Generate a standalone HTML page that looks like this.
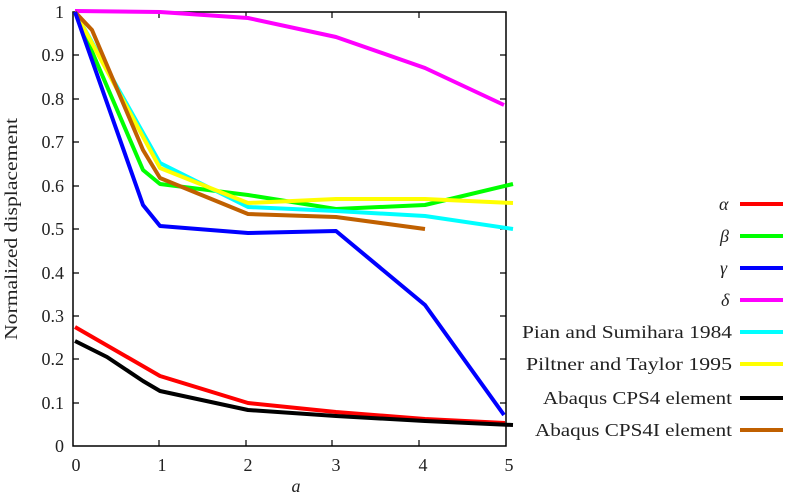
<!DOCTYPE html><html><head><style>body{margin:0;background:#fff}svg{display:block}text{font-family:"Liberation Serif",serif;font-size:18px;fill:#222}</style></head><body>
<svg width="790" height="497" viewBox="0 0 790 497">
<g stroke="#000" stroke-width="1.5" fill="none">
<rect x="73" y="12" width="433" height="434"/>
</g>
<g stroke="#000" stroke-width="1.2">
<path d="M159,446v-6M246,446v-6M332,446v-6M419,446v-6M159,12v6M246,12v6M332,12v6M419,12v6"/>
<path d="M73,403h6M73,359h6M73,316h6M73,273h6M73,229h6M73,186h6M73,142h6M73,99h6M73,55h6M506,403h-6M506,359h-6M506,316h-6M506,273h-6M506,229h-6M506,186h-6M506,142h-6M506,99h-6M506,55h-6"/>
</g>
<g text-anchor="end">
<text x="64" y="452">0</text><text x="64" y="409">0.1</text><text x="64" y="365">0.2</text><text x="64" y="322">0.3</text><text x="64" y="279">0.4</text><text x="64" y="235">0.5</text><text x="64" y="192">0.6</text><text x="64" y="148">0.7</text><text x="64" y="105">0.8</text><text x="64" y="61">0.9</text><text x="64" y="18">1</text>
</g>
<g text-anchor="middle">
<text x="76" y="471">0</text><text x="162" y="471">1</text><text x="248" y="471">2</text><text x="336" y="471">3</text><text x="423" y="471">4</text><text x="509" y="471">5</text>
<text x="296" y="492" font-style="italic">a</text>
<text transform="translate(17,229) rotate(-90)" textLength="222" lengthAdjust="spacingAndGlyphs">Normalized displacement</text>
</g>
<g fill="none" stroke-width="4" stroke-linejoin="round">
<polyline stroke="#ff00ff" points="75,11 160,12 248,18 336,37 425,68 504,105"/>
<polyline stroke="#00ff00" points="75,12 143,170 160,184 248,195 336,209 425,205 513,184"/>
<polyline stroke="#00ffff" points="75,12 160,163 248,207 336,211 425,216 513,229"/>
<polyline stroke="#ffff00" points="75,12 160,168 248,203 336,199 425,199 513,203"/>
<polyline stroke="#c06000" points="75,12 92,30 143,150 160,178 248,214 336,217 425,229"/>
<polyline stroke="#0000ff" points="75,12 143,205 160,226 248,233 336,231 425,305 504,415"/>
<polyline stroke="#ff0000" points="75,327 160,376 248,403 336,412 425,419 505,423"/>
<polyline stroke="#000" points="75,341 107,357 143,381 160,391 248,410 336,416 425,421 513,425"/>
</g>
<g>
<text x="719" y="210" font-style="italic">α</text>
<text x="720" y="242" font-style="italic">β</text>
<text x="720" y="274" font-style="italic">γ</text>
<text x="721" y="306" font-style="italic">δ</text>
<text x="522" y="338" textLength="210" lengthAdjust="spacingAndGlyphs">Pian and Sumihara 1984</text>
<text x="526" y="370" textLength="206" lengthAdjust="spacingAndGlyphs">Piltner and Taylor 1995</text>
<text x="543" y="404" textLength="189" lengthAdjust="spacingAndGlyphs">Abaqus CPS4 element</text>
<text x="535" y="436" textLength="197" lengthAdjust="spacingAndGlyphs">Abaqus CPS4I element</text>
</g>
<g stroke-width="4">
<path stroke="#ff0000" d="M740,204h43"/><path stroke="#00ff00" d="M740,236h43"/><path stroke="#0000ff" d="M740,268h43"/><path stroke="#ff00ff" d="M740,300h43"/><path stroke="#00ffff" d="M740,332h43"/><path stroke="#ffff00" d="M740,364h43"/><path stroke="#000" d="M740,398h43"/><path stroke="#c06000" d="M740,430h43"/>
</g>
</svg></body></html>
